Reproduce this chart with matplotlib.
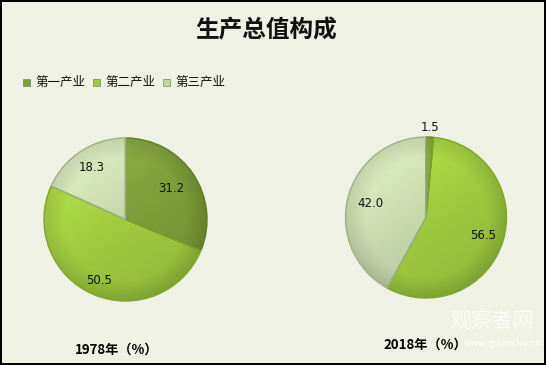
import numpy as np
import matplotlib
matplotlib.use("Agg")
import matplotlib.pyplot as plt
import matplotlib.colors as mcolors

plt.rcParams['font.family'] = ['Noto Sans CJK SC', 'DejaVu Sans']

title = "生产总值构成"
categories = ["第一产业", "第二产业", "第三产业"]
years = ["1978年（%）", "2018年（%）"]
values_1978 = [31.2, 50.5, 18.3]
values_2018 = [1.5, 56.5, 42.0]
labels_1978 = ["31.2", "50.5", "18.3"]
labels_2018 = ["1.5", "56.5", "42.0"]

colors = ["#7d9e38", "#9fcb3f", "#c6d6ab"]
edge_colors = ["#5f7a26", "#7fa52b", "#9fb184"]
bg = "#eef1e3"

W, H = 546, 365
fig = plt.figure(figsize=(W / 100, H / 100), dpi=100)
fig.patch.set_facecolor(bg)
fig.patch.set_edgecolor("black")
fig.patch.set_linewidth(1.5)


def px_axes(cx, cy, r, lim=1.22):
    size = 2 * r * lim
    return fig.add_axes([(cx - size / 2) / W, 1 - (cy + size / 2) / H, size / W, size / H])


def shade(ax, wedge, color):
    base = np.array(mcolors.to_rgb(color))
    n = 200
    xs = np.linspace(-1, 1, n)
    X, Y = np.meshgrid(xs, xs[::-1])
    t = (-X * 0.5 + Y * 0.7)  # light from upper-left
    rr = np.sqrt(X ** 2 + Y ** 2)
    f = 1 + 0.10 * t - 0.12 * np.clip(rr - 0.75, 0, None) / 0.25
    img = np.clip(base[None, None, :] * f[..., None] + 0.03 * np.clip(t, 0, None)[..., None], 0, 1)
    im = ax.imshow(img, extent=[-1, 1, -1, 1], zorder=1, interpolation="bilinear")
    im.set_clip_path(wedge)


def draw_pie(cx, cy, r, values, labels, dists, year, year_xy):
    ax = px_axes(cx, cy, r)
    ax.set_facecolor("none")
    wedges, texts = ax.pie(values, labels=labels, colors=colors, startangle=90,
                           counterclock=False, labeldistance=0.7,
                           wedgeprops=dict(linewidth=1.0),
                           textprops=dict(fontsize=8.5, color="#111111",
                                          family=["DejaVu Sans"]))
    for w, ec, c in zip(wedges, edge_colors, colors):
        w.set_edgecolor(ec)
        w.set_zorder(2)
        w.set_facecolor("none")
        shade(ax, w, c)
    for w, t, d in zip(wedges, texts, dists):
        ang = np.deg2rad((w.theta1 + w.theta2) / 2)
        t.set_position((d * np.cos(ang), d * np.sin(ang)))
        t.set_ha("center")
        t.set_va("center")
        t.set_zorder(3)
    ax.set_xlim(-1.22, 1.22)
    ax.set_ylim(-1.22, 1.22)
    ax.set_aspect("equal")
    ax.axis("off")
    fig.text(year_xy[0] / W, 1 - year_xy[1] / H, year, fontsize=9.5,
             fontweight="bold", ha="left", va="center")


draw_pie(125.5, 219.5, 81.5, values_1978, labels_1978, [0.68, 0.82, 0.76], years[0], (75, 350))
draw_pie(426, 217.5, 80.5, values_2018, labels_2018, [1.12, 0.74, 0.71], years[1], (383, 345))

# title
fig.text(266 / W, 1 - 30 / H, title, fontsize=17, fontweight="bold",
         ha="center", va="center", color="#111111")

# legend
x = 23
for name, c in zip(categories, colors):
    fig.patches.append(plt.Rectangle((x / W, 1 - 86 / H), 7 / W, 7 / H,
                                     transform=fig.transFigure, facecolor=c,
                                     edgecolor="#667744", linewidth=0.4))
    fig.text((x + 12) / W, 1 - 82 / H, name, fontsize=9, ha="left", va="center",
             color="#111111")
    x += 70

# watermark
fig.text(492 / W, 1 - 322 / H, "观察者网", fontsize=15, ha="center", va="center",
         color="white", alpha=0.75)
fig.text(464 / W, 1 - 343 / H, "www.guancha.cn", fontsize=6.5, ha="left", va="center",
         color="white", alpha=0.75, fontweight="bold")

fig.savefig("out.png", dpi=100, facecolor=bg, edgecolor="black")
